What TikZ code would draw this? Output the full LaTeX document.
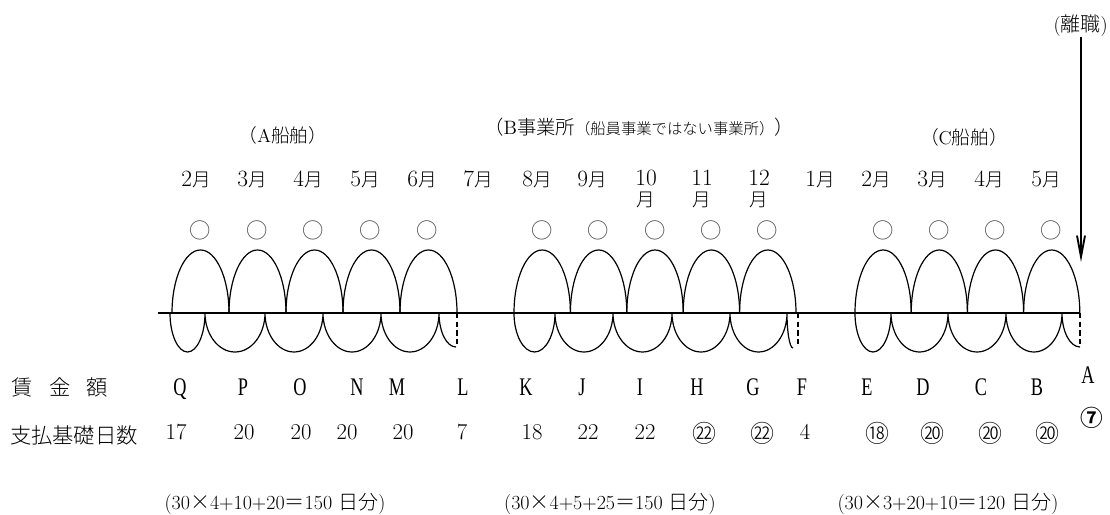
\documentclass[tikz,border=0pt]{standalone}
\usepackage{fontspec}
\usetikzlibrary{arrows.meta}

\newfontfamily\jp{Noto Sans CJK JP}[UprightFont=* Light, BoldFont=* Bold]
\newfontfamily\narrow[FakeStretch=0.72]{Liberation Serif}
\newcommand{\tsuki}[1]{#1{\jp\fontsize{14}{12}\selectfont 月}}

\begin{document}
\begin{tikzpicture}[
        x=.75pt, y=.75pt,
        axis/.style={line width=1.6pt},
        lobe/.style={line width=.9pt},
        cut/.style={line width=1.1pt, dash pattern=on 4pt off 2.5pt},
        drop/.style={line width=1.4pt, -{Straight Barb[length=16pt, width=6pt]}},
        mon/.style={inner sep=0pt, font=\fontsize{17.5}{15.5}\selectfont},
        ring/.style={inner sep=0pt, text=black!75, font=\jp\fontsize{16}{16}\selectfont},
        letter/.style={inner sep=0pt, anchor=base, font=\narrow\fontsize{19}{19}\selectfont},
        days/.style={inner sep=0pt, anchor=base, font=\fontsize{17}{17}\selectfont},
        cdays/.style={inner sep=0pt, font=\jp\fontsize{18}{18}\selectfont},
        rowhead/.style={inner sep=0pt, font=\jp\fontsize{16}{16}\selectfont},
        group/.style={inner sep=0pt, font=\jp\fontsize{14}{16}\selectfont},
        total/.style={inner sep=0pt, anchor=base, font=\fontsize{15}{15}\selectfont},
    ]
    \useasboundingbox (0,0) rectangle (1110,514);

    %% where each employment was
    \node[group] (shipA) at (283,379) {（{\rmfamily A}船舶）};
    \node[group, font=\jp\fontsize{14.5}{16}\selectfont] (officeB) at (639,387)
        {（{\rmfamily B}事業所{\fontsize{11.5}{12}\selectfont （船員事業ではない事業所）}）};
    \node[group] (shipC) at (964,377) {（{\rmfamily C}船舶）};

    %% months
    \foreach \x/\t [count=\i] in {196/2,252/3,308/4,365/5,422/6,478/7,537/8,592/9,
                                   820/1,876/2,932/3,989/4,1046/5}{
        \node[mon, anchor=base] (mon\i) at (\x,327) {\tsuki{\t}};
    }
    \foreach \x/\t in {646/10,702/11,759/12}{
        \node[mon, anchor=north, align=center] (monx\t) at (\x,344)
            {\t\\{\jp\fontsize{14}{12}\selectfont 月}};
    }

    %% a circle over every counted month
    \foreach \x [count=\i] in {200,257,313,370,427,542,598,655,711,767,883,939,995,1051}{
        \node[ring] (ok\i) at (\x,284) {○};
    }

    %% the line
    \draw[axis] (158,201) -- (1080,201);

    %% upper lobes
    \foreach \s in {172,229,286,343,400}{
        \draw[lobe] (\s,201) arc[start angle=180, end angle=0, x radius=28.5, y radius=63];
    }
    \foreach \s in {514,570.4,626.8,683.2,739.6}{
        \draw[lobe] (\s,201) arc[start angle=180, end angle=0, x radius=28.2, y radius=63];
    }
    \foreach \s in {855,911.2,967.4,1023.6}{
        \draw[lobe] (\s,201) arc[start angle=180, end angle=0, x radius=28.1, y radius=63];
    }

    %% lower arcs, ending in a cut
    \draw[lobe] (170,201) arc[start angle=180, end angle=360, x radius=17.5, y radius=39]
        arc[start angle=180, end angle=360, x radius=30, y radius=39]
        arc[start angle=180, end angle=360, x radius=29, y radius=39]
        arc[start angle=180, end angle=360, x radius=29, y radius=39]
        arc[start angle=180, end angle=360, x radius=29, y radius=39]
        arc[start angle=180, end angle=270, x radius=17, y radius=34];
    \draw[lobe] (514,201) arc[start angle=180, end angle=360, x radius=20.5, y radius=39]
        arc[start angle=180, end angle=360, x radius=29, y radius=39]
        arc[start angle=180, end angle=360, x radius=29.5, y radius=39]
        arc[start angle=180, end angle=360, x radius=29, y radius=39]
        arc[start angle=180, end angle=360, x radius=28.5, y radius=39]
        arc[start angle=180, end angle=270, x radius=6, y radius=35];
    \draw[lobe] (855,201) arc[start angle=180, end angle=360, x radius=18, y radius=39]
        arc[start angle=180, end angle=360, x radius=28.5, y radius=39]
        arc[start angle=180, end angle=360, x radius=29, y radius=39]
        arc[start angle=180, end angle=360, x radius=28, y radius=39]
        arc[start angle=180, end angle=270, x radius=18, y radius=34];
    \foreach \x in {457,798,1080}{
        \draw[cut] (\x,201) -- (\x,167);
    }

    %% leaving the job
    \node[inner sep=0pt, anchor=east, font=\fontsize{15}{15}\selectfont] (retire) at (1108,488) {({\jp 離職})};
    \coordinate (quit) at (1081,252);
    \draw[drop] (retire.south -| quit) -- (quit);

    %% wages
    \node[rowhead] (wage) at (60,127) {賃\hspace{12pt}金\hspace{12pt}額};
    \foreach \x/\t in {180/Q,243/P,300/O,357/N,397/M,463/L,526/K,582/J,640/I,
                       697/H,753/G,802/F,867/E,923/D,981/C,1037/B}{
        \node[letter] (w\t) at (\x,118) {\t};
    }
    \node[letter] (wA) at (1088,130) {A};

    %% days paid
    \node[rowhead] (basis) at (74,79) {支払基礎日数};
    \foreach \x/\t [count=\i] in {176/17,244/20,301/20,347/20,403/20,462/7,532/18,
                                   588/22,645/22,805/4}{
        \node[days] (d\i) at (\x,74) {\t};
    }
    \foreach \x/\t [count=\i] in {704/㉒,762/㉒,877/⑱,932/⑳,990/⑳,1047/⑳}{
        \node[cdays] (cd\i) at (\x,81) {\t};
    }
    \node[cdays, font=\jp\bfseries\fontsize{17}{17}\selectfont] (last) at (1092,96) {⑦};

    %% totals
    \node[total] (sumA) at (275,5) {(30{\jp ×}4+10+20{\jp ＝}150 {\jp 日分})};
    \node[total] (sumB) at (610,5) {(30{\jp ×}4+5+25{\jp ＝}150 {\jp 日分})};
    \node[total] (sumC) at (948,5) {(30{\jp ×}3+20+10{\jp ＝}120 {\jp 日分})};
\end{tikzpicture}
\end{document}
